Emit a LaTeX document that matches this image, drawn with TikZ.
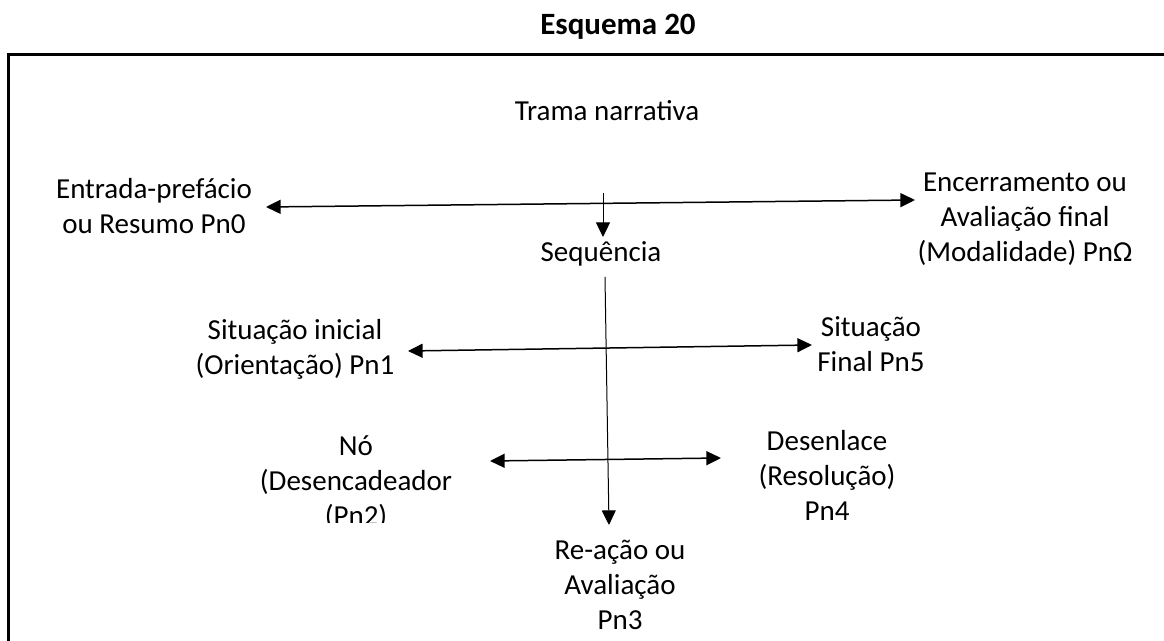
\documentclass[tikz,border=0pt]{standalone}
\usepackage{fontspec}
\setmainfont{Carlito}
\usetikzlibrary{arrows.meta}

\begin{document}
\begin{tikzpicture}[x=0.5pt,y=-0.5pt,
              every node/.style={align=center, inner sep=0pt,
                font=\fontsize{14.5}{17.5}\selectfont,
                execute at begin node=\strut, execute at end node=\strut},
              frame/.style={line width=1.5pt},
              both/.style={{Triangle[length=7.3pt,width=7pt]}-{Triangle[length=7.3pt,width=7pt]}, line width=0.75pt},
              down/.style={-{Triangle[length=7.3pt,width=7pt]}, line width=0.5pt}
            ]
              \useasboundingbox (0,0) rectangle (1164,641);
              \draw[frame] (8,641) -- (8,55) -- (1164,55);
              \node[font=\fontsize{15.5}{17.5}\selectfont\bfseries] (titulo) at (618,27.5) {Esquema 20};
              \node (trama) at (607,113.3) {Trama narrativa};
              \node (entrada) at (154,211.5) {Entrada-prefácio\\ou Resumo Pn0};
              \node (encerramento) at (1025,222) {Encerramento ou\\Avaliação final\\(Modalidade) PnΩ};
              \node (sequencia) at (601,255) {Sequência};
              \node (inicial) at (295,352.5) {Situação inicial\\(Orientação) Pn1};
              \node (final) at (871,349.6) {Situação\\Final Pn5};
              \begin{scope}
                \clip (200,400) rectangle (520,523);
                \node (no) at (356,486.3) {Nó\\(Desencadeador\\(Pn2)};
              \end{scope}
              \node (desenlace) at (827,480.3) {Desenlace\\(Resolução)\\Pn4};
              \begin{scope}
                \clip (480,530) rectangle (760,631);
                \node (reacao) at (620,590.3) {Re-ação ou\\Avaliação\\Pn3};
              \end{scope}
              \coordinate (p0l) at (266,207);
              \coordinate (p0r) at (915,200);
              \coordinate (p1l) at (408,351);
              \coordinate (p1r) at (812,345);
              \coordinate (p2l) at (490,461);
              \coordinate (p2r) at (721,458);
              \coordinate (s0) at (603,193);
              \coordinate (s1) at (603,237);
              \coordinate (s2) at (605,277);
              \coordinate (s3) at (609,525);
              \draw[both] (p0l) -- (p0r);
              \draw[both] (p1l) -- (p1r);
              \draw[both] (p2l) -- (p2r);
              \draw[down] (s0) -- (s1);
              \draw[down] (s2) -- (s3);
            \end{tikzpicture}
\end{document}
